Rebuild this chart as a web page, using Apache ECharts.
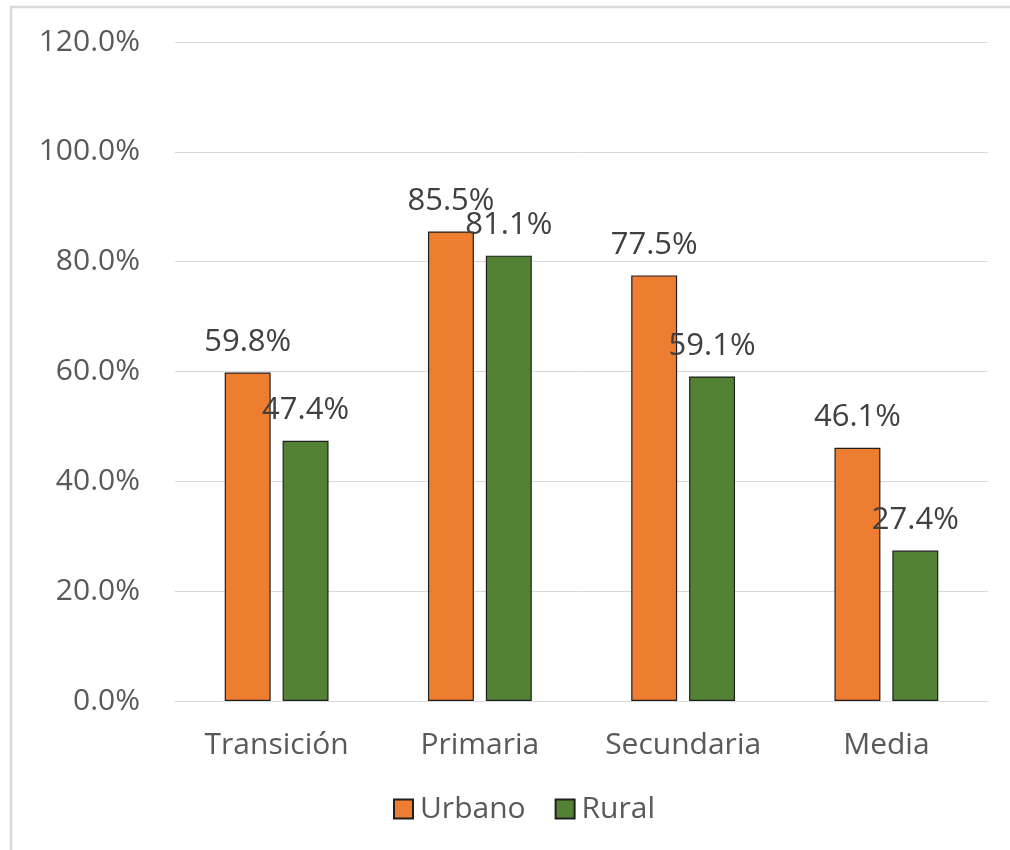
<!DOCTYPE html>
<html>
<head>
<meta charset="utf-8">
<script src="https://cdn.jsdelivr.net/npm/echarts@6/dist/echarts.min.js"></script>
<style>
  html, body { margin: 0; padding: 0; background: #ffffff; }
  #chart { width: 1010px; height: 850px; }
</style>
</head>
<body>
<div id="chart"></div>
<script>
// Niveles educativos y porcentajes por zona
const categories = ['Transición', 'Primaria', 'Secundaria', 'Media'];
const urbano = [59.8, 85.5, 77.5, 46.1];
const rural = [47.4, 81.1, 59.1, 27.4];
const seriesNames = ['Urbano', 'Rural'];

const FONT = '"Open Sans", "Noto Sans", sans-serif';
const pct = v => v.toFixed(1) + '%';

const chart = echarts.init(document.getElementById('chart'), null, { renderer: 'canvas' });

const barLabel = {
  show: true,
  position: 'top',
  distance: 15,
  color: '#404040',
  fontFamily: FONT,
  fontSize: 31,
  formatter: p => pct(p.value)
};

chart.setOption({
  backgroundColor: '#ffffff',
  animation: false,
  graphic: [{
    type: 'rect',
    shape: { x: 11, y: 7, width: 1200, height: 1000 },
    style: { fill: 'none', stroke: '#d9d9d9', lineWidth: 2.5 },
    silent: true
  }],
  grid: { left: 175, right: 22, top: 42, bottom: 149, containLabel: false },
  legend: {
    left: 388,
    top: 789,
    itemWidth: 19,
    itemHeight: 19,
    itemGap: 29,
    icon: 'rect',
    textStyle: { color: '#595959', fontFamily: FONT, fontSize: 30, padding: [0, 0, 0, 2] },
    data: seriesNames
  },
  xAxis: {
    type: 'category',
    data: categories,
    axisLine: { show: true, lineStyle: { color: '#d9d9d9', width: 1 } },
    axisTick: { show: false },
    axisLabel: { color: '#595959', fontFamily: FONT, fontSize: 30, margin: 29 }
  },
  yAxis: {
    type: 'value',
    min: 0,
    max: 120,
    interval: 20,
    axisLine: { show: false },
    axisTick: { show: false },
    splitLine: { lineStyle: { color: '#d9d9d9', width: 1 } },
    axisLabel: { color: '#595959', fontFamily: FONT, fontSize: 30, margin: 35, formatter: v => pct(v) }
  },
  series: [
    {
      name: seriesNames[0],
      type: 'bar',
      data: urbano,
      barWidth: '22.6%',
      barGap: '26%',
      itemStyle: { color: '#ED7D31', borderColor: '#1f1f1f', borderWidth: 1.2 },
      label: barLabel
    },
    {
      name: seriesNames[1],
      type: 'bar',
      data: rural,
      barWidth: '22.6%',
      barGap: '26%',
      itemStyle: { color: '#548235', borderColor: '#1f1f1f', borderWidth: 1.2 },
      label: barLabel
    }
  ]
});
</script>
</body>
</html>
